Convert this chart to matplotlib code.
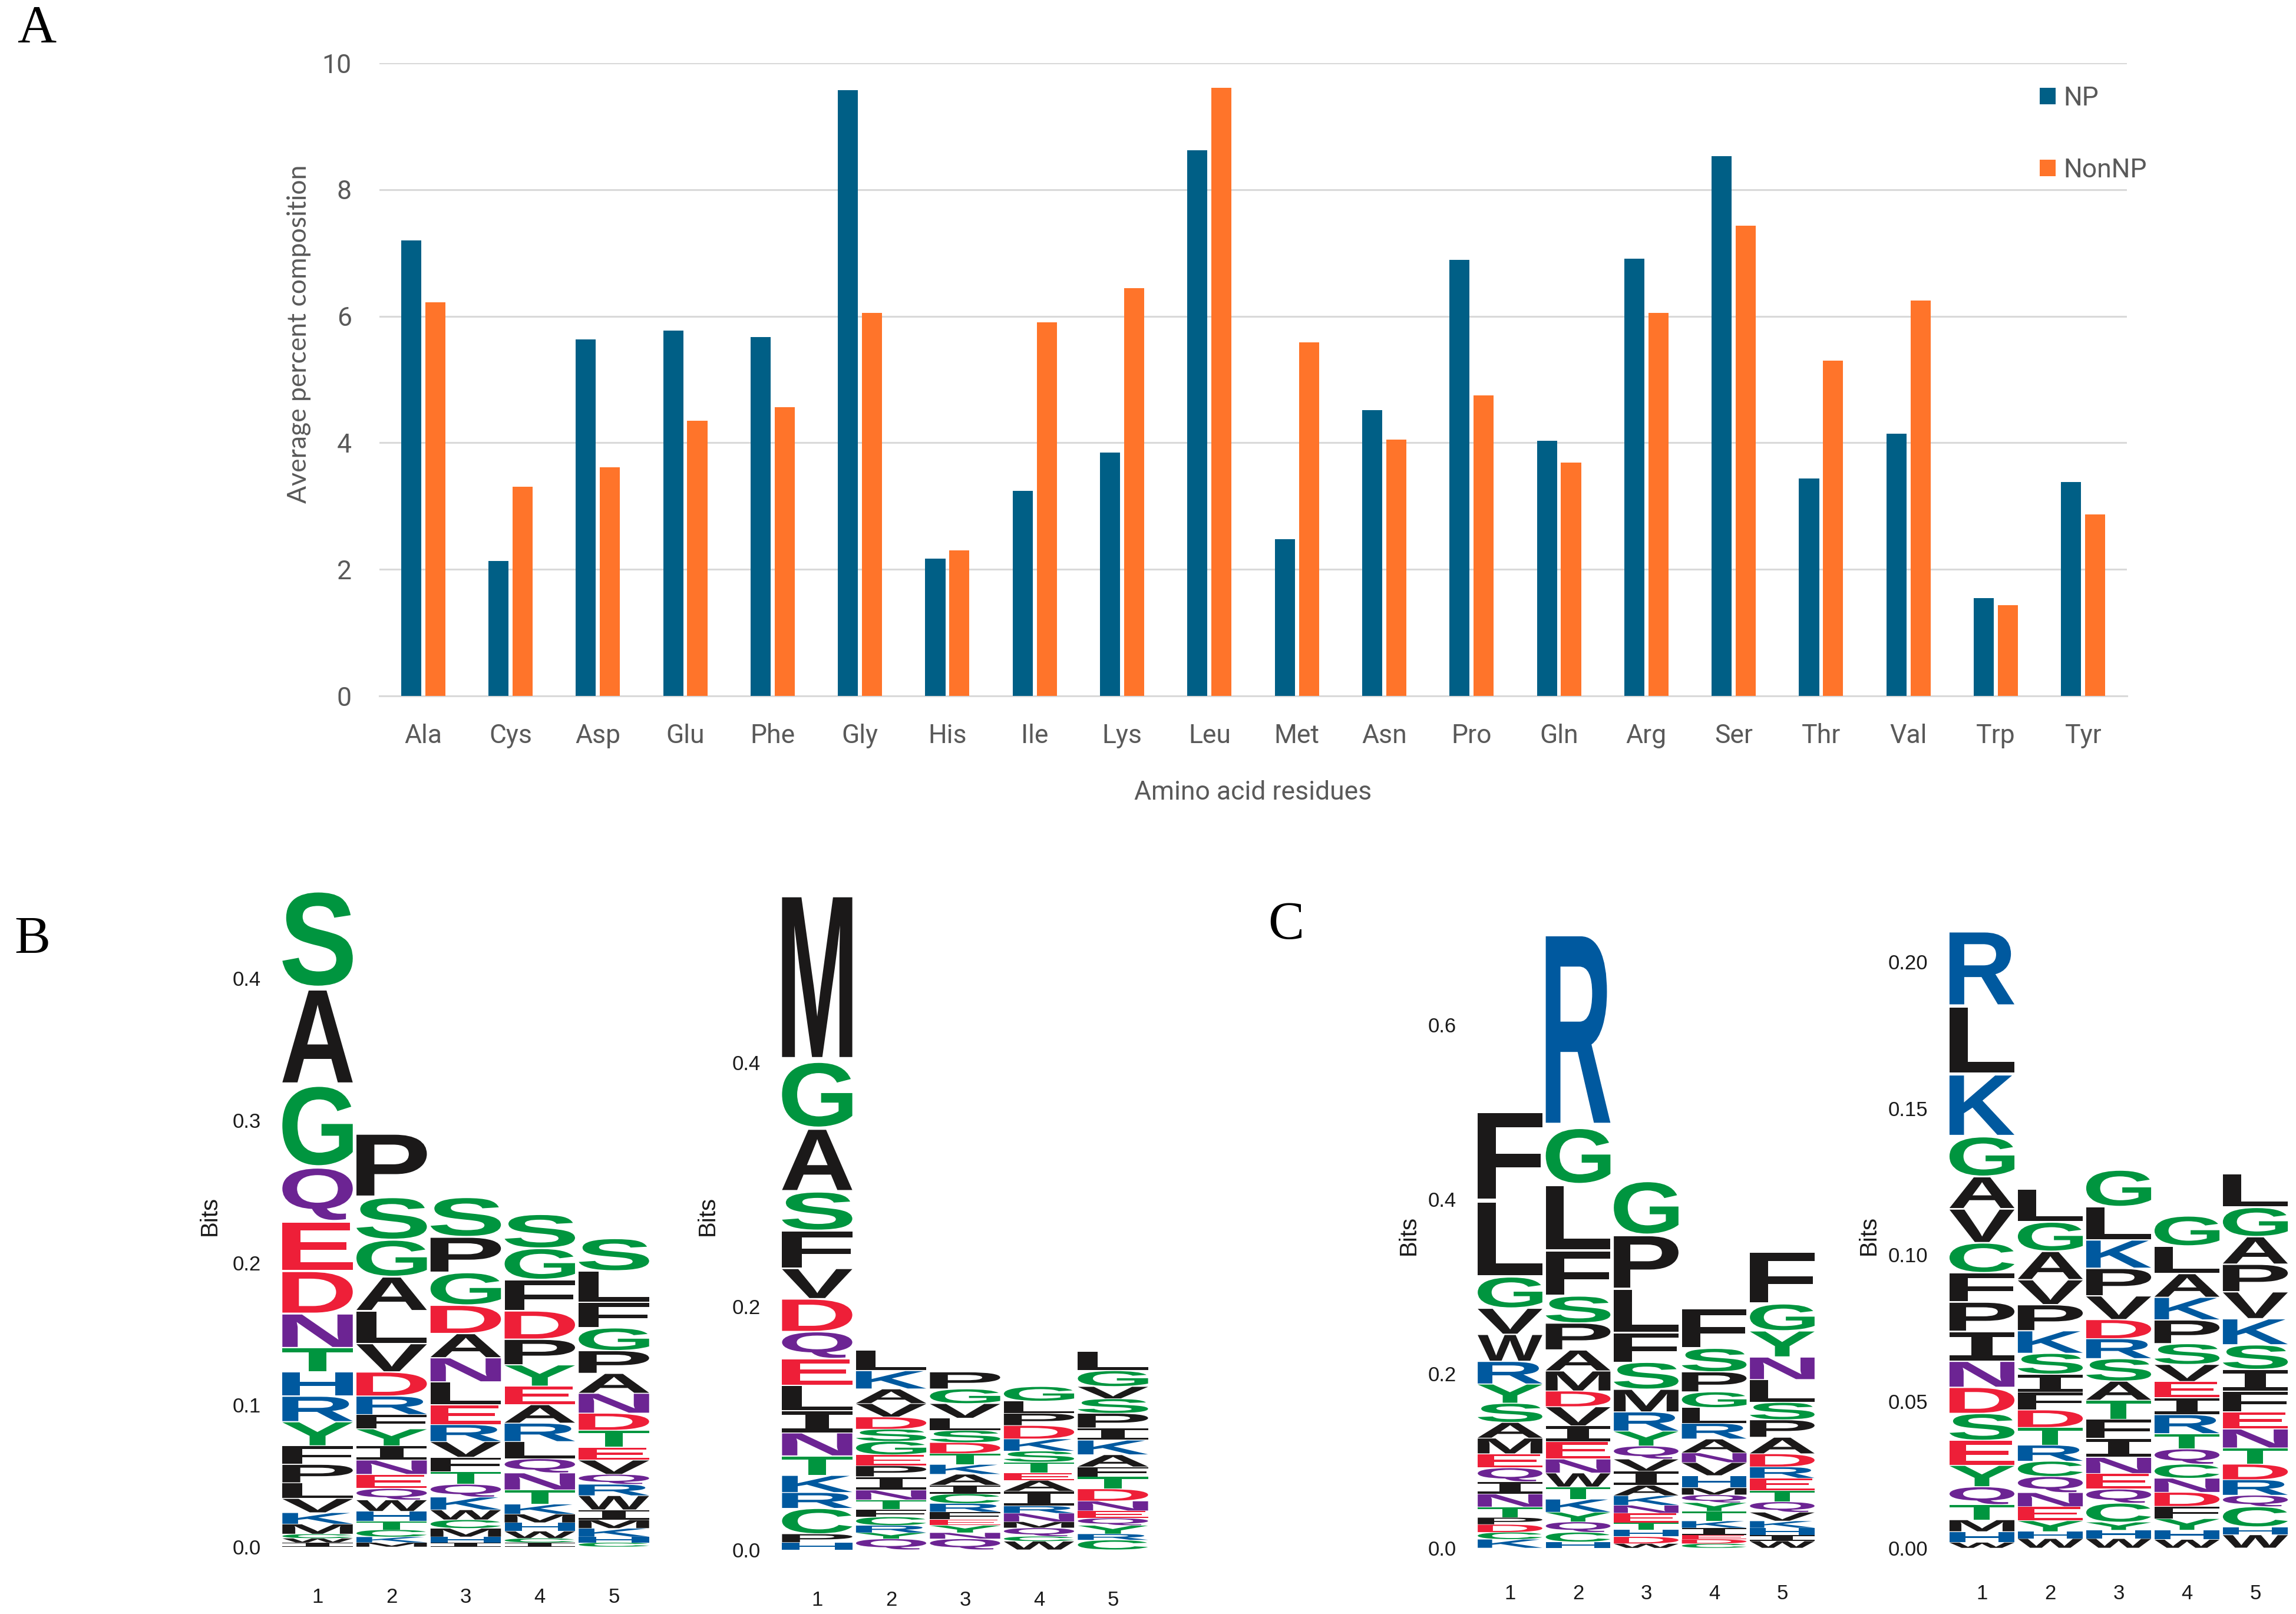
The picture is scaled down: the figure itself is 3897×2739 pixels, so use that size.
import numpy as np
import matplotlib
matplotlib.use("Agg")
import matplotlib.pyplot as plt
from matplotlib.textpath import TextPath
from matplotlib.font_manager import FontProperties, findfont
from matplotlib.patches import PathPatch
from matplotlib.transforms import Affine2D

W, H = 3898, 2739

# ---- panel A data (average percent composition) ----
residues = ["Ala", "Cys", "Asp", "Glu", "Phe", "Gly", "His", "Ile", "Lys", "Leu",
            "Met", "Asn", "Pro", "Gln", "Arg", "Ser", "Thr", "Val", "Trp", "Tyr"]
np_comp = [7.20, 2.13, 5.63, 5.77, 5.67, 9.57, 2.17, 3.24, 3.85, 8.62,
           2.48, 4.52, 6.89, 4.03, 6.91, 8.53, 3.44, 4.14, 1.55, 3.38]
nonnp_comp = [6.22, 3.31, 3.61, 4.35, 4.56, 6.05, 2.30, 5.90, 6.44, 9.61,
              5.59, 4.05, 4.75, 3.69, 6.05, 7.43, 5.30, 6.25, 1.43, 2.87]

# ---- sequence logos: letters listed top to bottom, heights in bits ----
logo_b1_letters = ["SAGQEDNTHRYFPLVKMCWI",
                   "PSGALVDRFYINEQWHTCKM",
                   "SPGDANLERVFTQKWCMHI",
                   "SGFDPYEARLQNTKMHWCI",
                   "SLFGPANDTEVQRWIMKHC"]
logo_b1_bits = [
    [.069, .068, .058, .038, .035, .030, .024, .017, .017, .018, .017, .013, .013, .011, .010, .008, .007, .003, .003, .003],
    [.045, .030, .026, .024, .023, .020, .017, .013, .010, .012, .010, .010, .010, .008, .008, .007, .006, .005, .004, .003],
    [.028, .025, .023, .020, .017, .017, .016, .014, .012, .011, .010, .009, .009, .009, .007, .006, .006, .004, .003],
    [.024, .022, .022, .020, .018, .015, .013, .013, .013, .012, .010, .012, .010, .007, .006, .006, .005, .003, .003],
    [.023, .022, .018, .016, .016, .014, .014, .012, .012, .009, .010, .007, .008, .010, .007, .006, .006, .004, .003],
]

logo_b2_letters = ["MGASFVDQELINTKRCPH",
                   "LKAVDSGEPINTFCRYQ",
                   "PGVLSDTKAICRFEYNQ",
                   "GLPDKSTEAIRNMQCW",
                   "LGVSPIKAFTDNEQYRC"]
logo_b2_bits = [
    [.138, .055, .052, .032, .031, .025, .027, .022, .022, .021, .018, .019, .016, .014, .013, .021, .007, .006],
    [.017, .015, .012, .011, .010, .010, .011, .009, .009, .011, .008, .008, .006, .007, .006, .005, .009],
    [.014, .012, .012, .010, .010, .009, .009, .008, .009, .007, .008, .007, .006, .005, .006, .005, .009],
    [.012, .010, .010, .011, .010, .009, .009, .006, .009, .012, .006, .007, .005, .007, .004, .007],
    [.016, .013, .010, .012, .012, .010, .012, .010, .008, .010, .010, .008, .006, .006, .007, .005, .008],
]

logo_c1_letters = ["FLGVWRYSAMEQINTPDCK",
                   "RGLFSPAMDVIENWTKYQCH",
                   "GPLFSMRYQVIAKNETHDW",
                   "FSPGLRANVHMQYTKIEDC",
                   "FGYNLSPADRETQVKHIW"]
logo_c1_bits = [
    [.103, .087, .036, .030, .031, .026, .022, .022, .018, .018, .016, .016, .014, .015, .012, .008, .009, .008, .010],
    [.225, .065, .076, .052, .031, .031, .024, .023, .018, .022, .018, .020, .016, .016, .014, .015, .011, .012, .011, .007],
    [.062, .062, .050, .034, .031, .026, .022, .017, .015, .014, .016, .012, .011, .009, .011, .008, .008, .008, .005],
    [.046, .027, .023, .018, .018, .018, .016, .011, .015, .014, .008, .009, .010, .011, .008, .008, .005, .005, .005],
    [.060, .031, .030, .026, .026, .020, .020, .019, .015, .013, .014, .013, .012, .010, .008, .008, .007, .008],
]

logo_c2_letters = ["RLKGAVCFPINDSEYQTMHW",
                   "LGAVPKSIFDTRCQNEYHW",
                   "GLKPVDRSATFINEQCYHW",
                   "GLAKPSVEIRTQCNDFYHW",
                   "LGAPVKSIFENTDRQCHW"]
logo_c2_bits = [
    [.0258, .0231, .0213, .0137, .0110, .0116, .0102, .0100, .0100, .0102, .0089, .0089, .0092, .0085, .0073, .0061, .0052, .0040, .0037, .0019],
    [.0113, .0100, .0097, .0085, .0089, .0077, .0071, .0061, .0061, .0060, .0060, .0055, .0052, .0055, .0048, .0048, .0037, .0024, .0032],
    [.0126, .0113, .0097, .0094, .0081, .0065, .0068, .0077, .0065, .0065, .0065, .0065, .0055, .0053, .0048, .0065, .0027, .0029, .0032],
    [.0103, .0094, .0081, .0077, .0081, .0071, .0058, .0055, .0058, .0065, .0052, .0052, .0048, .0048, .0048, .0042, .0039, .0032, .0029],
    [.0116, .0100, .0094, .0094, .0092, .0089, .0084, .0074, .0071, .0058, .0065, .0055, .0053, .0053, .0039, .0069, .0027, .0045],
]

# chemistry colour scheme
colors = {}
for aa in "SGTYC":
    colors[aa] = "#00953f"
for aa in "AVLIPWFM":
    colors[aa] = "#1b1919"
for aa in "DE":
    colors[aa] = "#ee1f38"
for aa in "KRH":
    colors[aa] = "#00599f"
for aa in "NQ":
    colors[aa] = "#6c2493"


def first_font(names):
    for name in names:
        try:
            findfont(FontProperties(family=name), fallback_to_default=False)
            return name
        except ValueError:
            continue
    return "DejaVu Sans"


narrow = first_font(["Liberation Sans Narrow", "Roboto", "Liberation Sans"])
plt.rcParams["font.family"] = [narrow, "DejaVu Sans"]


def px_rect(left, right, top, bottom):
    return [left / W, 1 - bottom / H, (right - left) / W, (bottom - top) / H]


fig = plt.figure(figsize=(W / 100, H / 100), dpi=100)

# ---------------- panel A ----------------
ax = fig.add_axes(px_rect(644, 3610, 107, 1181))
x = np.arange(len(residues))
ax.bar(x - 0.138, np_comp, width=0.23, color="#005f86", label="NP", zorder=3)
ax.bar(x + 0.138, nonnp_comp, width=0.23, color="#ff742a", label="NonNP", zorder=3)
ax.set_xlim(-0.5, len(residues) - 0.5)
ax.set_ylim(0, 10)
ax.set_yticks(range(0, 11, 2))
ax.set_xticks(x, residues)
ax.grid(axis="y", color="#d9d9d9", lw=2.2, zorder=0)
for s in ["top", "right", "left"]:
    ax.spines[s].set_visible(False)
ax.spines["bottom"].set_color("#d9d9d9")
ax.spines["bottom"].set_linewidth(2.2)
ax.tick_params(axis="both", length=0, labelsize=32, colors="#595959")
ax.tick_params(axis="x", pad=34)
ax.tick_params(axis="y", pad=34)

ax.set_xlabel("Amino acid residues", fontsize=32, color="#595959")
ax.xaxis.label.set_va("center")
ax.xaxis.set_label_coords(0.5, (1181 - 1345) / (1181 - 107))
ax.set_ylabel("Average percent composition", fontsize=32, color="#595959",
              family=["Lato", "DejaVu Sans"])
ax.yaxis.label.set_va("center")
ax.yaxis.set_label_coords((507 - 644) / (3610 - 644), (1181 - 567) / (1181 - 107))

leg = ax.legend(loc="upper left", bbox_to_anchor=(3462 / W, 1 - 146 / H),
                bbox_transform=fig.transFigure, frameon=False, fontsize=32,
                handlelength=0.6, handleheight=0.6, handletextpad=0.3,
                labelspacing=1.8, borderpad=0, borderaxespad=0)
for t in leg.get_texts():
    t.set_color("#595959")

# ---------------- logos ----------------
glyph_font = FontProperties(family="Liberation Sans", weight="bold")
i_font = FontProperties(family="DejaVu Sans Mono", weight="bold")


def draw_glyph(ax, letter, xc, y0, w, h):
    fp = i_font if letter == "I" else glyph_font
    tp = TextPath((0, 0), letter, size=1, prop=fp)
    ext = tp.get_extents()
    hh = h * 0.95
    tr = (Affine2D().translate(-ext.x0, -ext.y0)
          .scale(w / ext.width, hh / ext.height)
          .translate(xc - w / 2, y0 + h * 0.025))
    ax.add_patch(PathPatch(tr.transform_path(tp), facecolor=colors[letter],
                           edgecolor="none", lw=0))


def draw_logo(rect, letters, bits, ymax, yticks, fmt, xpad):
    lax = fig.add_axes(rect)
    for pos, (col_l, col_b) in enumerate(zip(letters, bits), start=1):
        y = 0.0
        for letter, h in reversed(list(zip(col_l, col_b))):
            draw_glyph(lax, letter, pos, y, 0.95, h)
            y += h
    lax.set_xlim(0.5, 5.5)
    lax.set_ylim(0, ymax)
    lax.set_xticks(range(1, 6))
    lax.set_yticks(yticks, [fmt % v for v in yticks])
    for s in lax.spines.values():
        s.set_visible(False)
    lax.tick_params(length=0, labelsize=25, colors="#1a1a1a")
    lax.tick_params(axis="y", pad=24)
    lax.tick_params(axis="x", pad=xpad)
    for lbl in lax.get_xticklabels() + lax.get_yticklabels():
        lbl.set_fontfamily("Liberation Sans")
    return lax


def logo_rect(c1, c5, y0px, yref_px, yref, ymax):
    pitch = (c5 - c1) / 4
    left = c1 - pitch / 2
    right = c5 + pitch / 2
    per = (y0px - yref_px) / yref
    top = y0px - per * ymax
    return px_rect(left, right, top, y0px)


draw_logo(logo_rect(539, 1042, 2625, 1660, 0.4, 0.48), logo_b1_letters, logo_b1_bits,
          0.48, [0.0, 0.1, 0.2, 0.3, 0.4], "%.1f", 50)
draw_logo(logo_rect(1387, 1889, 2630, 1803, 0.4, 0.56), logo_b2_letters, logo_b2_bits,
          0.56, [0.0, 0.2, 0.4], "%.1f", 50)
draw_logo(logo_rect(2563, 3025, 2627, 1739, 0.6, 0.75), logo_c1_letters, logo_c1_bits,
          0.75, [0.0, 0.2, 0.4, 0.6], "%.1f", 44)
draw_logo(logo_rect(3364, 3828, 2627, 1632, 0.2, 0.22), logo_c2_letters, logo_c2_bits,
          0.22, [0.0, 0.05, 0.10, 0.15, 0.20], "%.2f", 44)

for bx, by in [(356, 2063), (1201, 2063), (2391, 2096), (3172, 2096)]:
    fig.text(bx / W, 1 - by / H, "Bits", rotation=90, ha="center", va="center",
             fontsize=29, family="Liberation Sans", color="#1a1a1a")

# panel letters
for lab, lx, ly in [("A", 62, 50), ("B", 55, 1596), ("C", 2183, 1571)]:
    fig.text(lx / W, 1 - ly / H, lab, ha="center", va="center", fontsize=66,
             family="Liberation Serif", color="black")

fig.savefig("out.png", dpi=100)
